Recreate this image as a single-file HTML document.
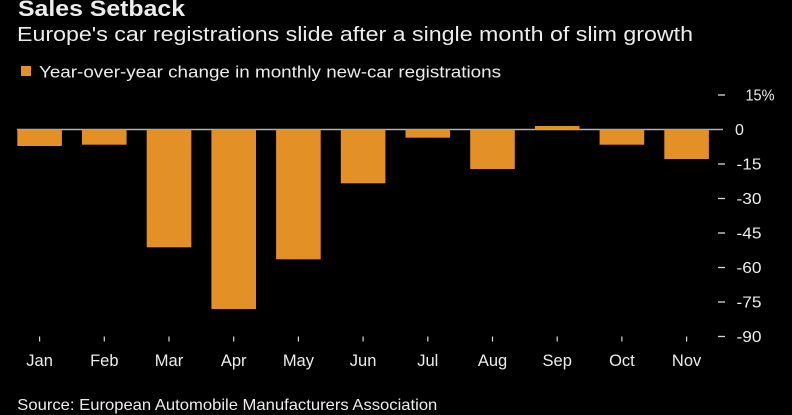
<!DOCTYPE html>
<html><head><meta charset="utf-8"><style>
html,body{margin:0;padding:0;background:#000;}
svg{display:block;}
text{font-family:"Liberation Sans",sans-serif;fill:#ececec;}
</style></head><body>
<svg width="792" height="415" viewBox="0 0 792 415" xmlns="http://www.w3.org/2000/svg">
<rect width="792" height="415" fill="#000"/>
<text x="18" y="16" font-size="22" font-weight="bold" textLength="167" lengthAdjust="spacingAndGlyphs">Sales Setback</text>
<text x="17" y="41" font-size="20" textLength="676" lengthAdjust="spacingAndGlyphs">Europe's car registrations slide after a single month of slim growth</text>
<rect x="21" y="66" width="10" height="10" fill="#E39027"/>
<text x="39" y="77.5" font-size="16.5" textLength="462" lengthAdjust="spacingAndGlyphs">Year-over-year change in monthly new-car registrations</text>
<!-- zero line -->
<line x1="17" y1="129.5" x2="723" y2="129.5" stroke="#b0b0b0" stroke-width="1.6"/>
<g fill="#E39027">
<rect x="17.3" y="129.5" width="44.6" height="16.5"/>
<rect x="82" y="129.5" width="44.6" height="15.2"/>
<rect x="146.7" y="129.5" width="44.6" height="117.8"/>
<rect x="211.4" y="129.5" width="44.6" height="179.5"/>
<rect x="276.1" y="129.5" width="44.6" height="129.8"/>
<rect x="340.8" y="129.5" width="44.6" height="53.8"/>
<rect x="405.5" y="129.5" width="44.6" height="8.2"/>
<rect x="470.2" y="129.5" width="44.6" height="39.5"/>
<rect x="534.9" y="126" width="44.6" height="3.5"/>
<rect x="599.6" y="129.5" width="44.6" height="15.2"/>
<rect x="664.3" y="129.5" width="44.6" height="29.5"/>
</g>
<!-- y ticks -->
<g stroke="#d8d8d8" stroke-width="1.3">
<line x1="718" y1="95" x2="725" y2="95"/>
<line x1="718" y1="164" x2="725" y2="164"/>
<line x1="718" y1="198.5" x2="725" y2="198.5"/>
<line x1="718" y1="233" x2="725" y2="233"/>
<line x1="718" y1="267.5" x2="725" y2="267.5"/>
<line x1="718" y1="302" x2="725" y2="302"/>
<line x1="718" y1="336.5" x2="725" y2="336.5"/>
</g>
<g font-size="16">
<text x="745.5" y="100.5" textLength="29" lengthAdjust="spacingAndGlyphs">15%</text>
<text x="735" y="135">0</text>
<text x="736.5" y="169.5" textLength="25" lengthAdjust="spacingAndGlyphs">-15</text>
<text x="736.5" y="204" textLength="25" lengthAdjust="spacingAndGlyphs">-30</text>
<text x="736.5" y="238.5" textLength="25" lengthAdjust="spacingAndGlyphs">-45</text>
<text x="736.5" y="273" textLength="25" lengthAdjust="spacingAndGlyphs">-60</text>
<text x="736.5" y="307.5" textLength="25" lengthAdjust="spacingAndGlyphs">-75</text>
<text x="736.5" y="342" textLength="25" lengthAdjust="spacingAndGlyphs">-90</text>
</g>
<!-- x ticks -->
<g stroke="#d8d8d8" stroke-width="1.2">
<line x1="39.6" y1="336.5" x2="39.6" y2="341.5"/>
<line x1="104.3" y1="336.5" x2="104.3" y2="341.5"/>
<line x1="169" y1="336.5" x2="169" y2="341.5"/>
<line x1="233.7" y1="336.5" x2="233.7" y2="341.5"/>
<line x1="298.4" y1="336.5" x2="298.4" y2="341.5"/>
<line x1="363.1" y1="336.5" x2="363.1" y2="341.5"/>
<line x1="427.8" y1="336.5" x2="427.8" y2="341.5"/>
<line x1="492.5" y1="336.5" x2="492.5" y2="341.5"/>
<line x1="557.2" y1="336.5" x2="557.2" y2="341.5"/>
<line x1="621.9" y1="336.5" x2="621.9" y2="341.5"/>
<line x1="686.6" y1="336.5" x2="686.6" y2="341.5"/>
</g>
<g font-size="16.5" text-anchor="middle">
<text x="39.6" y="366">Jan</text>
<text x="104.3" y="366">Feb</text>
<text x="169" y="366">Mar</text>
<text x="233.7" y="366">Apr</text>
<text x="298.4" y="366">May</text>
<text x="363.1" y="366">Jun</text>
<text x="427.8" y="366">Jul</text>
<text x="492.5" y="366">Aug</text>
<text x="557.2" y="366">Sep</text>
<text x="621.9" y="366">Oct</text>
<text x="686.6" y="366">Nov</text>
</g>
<text x="17.3" y="410" font-size="16" textLength="420" lengthAdjust="spacingAndGlyphs">Source: European Automobile Manufacturers Association</text>
</svg>
</body></html>
